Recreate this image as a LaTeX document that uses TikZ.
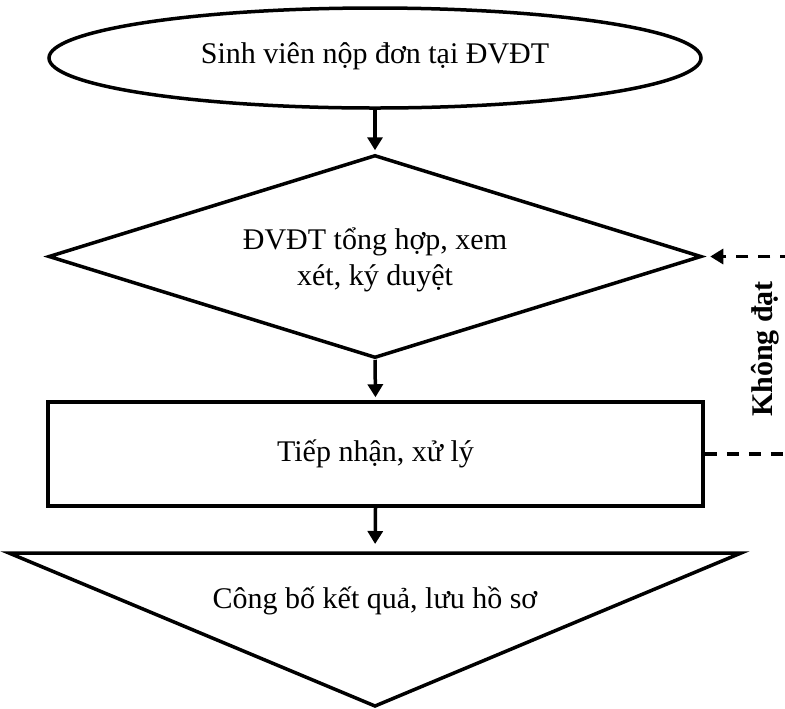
\documentclass[tikz,border=0pt]{standalone}
\usepackage{fontspec}
\setmainfont{Liberation Serif}
\usetikzlibrary{shapes.geometric,arrows.meta}

\begin{document}
\begin{tikzpicture}[x=0.5pt,y=-0.5pt,
		khung/.style={draw=black,line width=1.75pt,inner sep=0pt},
		chu/.style={font=\fontsize{15}{16.5}\selectfont,align=center},
		muiten/.style={line width=1.75pt,-{Triangle[length=6.5pt,width=7.5pt]}},
		quaylai/.style={line width=1.6pt,dash pattern=on 6pt off 5pt}]
	\useasboundingbox (0,0) rectangle (785,708);
	\clip (0,0) rectangle (785,708);
	\node [khung,chu,ellipse,minimum width=326pt,minimum height=50pt,text height=10pt,text depth=5pt] (nopdon) at (375,58) {Sinh viên nộp đơn tại ĐVĐT};
	\node [khung,chu,font=\fontsize{15}{18}\selectfont,diamond,aspect=3.2,minimum width=326.5pt,minimum height=101.5pt,text depth=-3pt] (duyet) at (375,256.5) {ĐVĐT tổng hợp, xem\\xét, ký duyệt};
	\node [khung,chu,rectangle,minimum width=327.5pt,minimum height=52pt] (xuly) at (375.5,454) {Tiếp nhận, xử lý};
	\coordinate (kqdinh) at (375,553);
	\draw [khung] (9,553) -- (741,553) -- (375,706) -- cycle;
	\node [chu] (ketqua) at (375,601) {Công bố kết quả, lưu hồ sơ};
	\node [chu,font=\fontsize{15}{16.5}\selectfont\bfseries,rotate=90] (khongdat) at (765,349) {Không đạt};
	\draw [muiten,shorten >=1.5pt] (nopdon.south) -- (duyet.north);
	\draw [muiten,shorten >=1.5pt] (duyet.south) -- (xuly.north);
	\draw [muiten,shorten >=4.5pt] (xuly.south) -- (kqdinh);
	\draw [quaylai,-{Triangle[length=6.5pt,width=7.5pt]},shorten >=3.5pt] (xuly.east) -- ++(110,0) |- (duyet.east);
\end{tikzpicture}
\end{document}
